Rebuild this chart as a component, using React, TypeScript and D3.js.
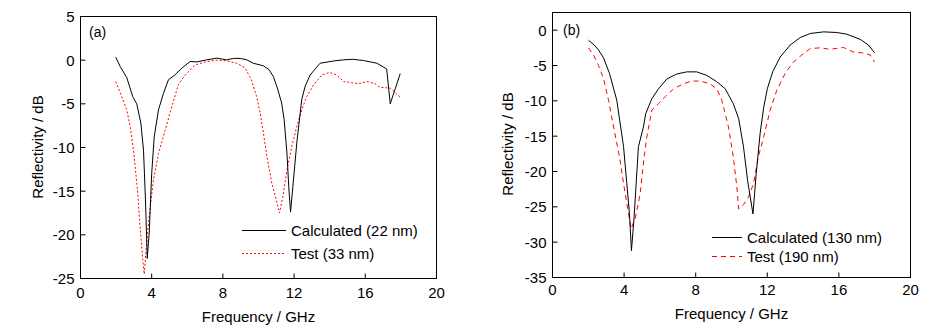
import React from "react";
import * as d3 from "d3";

// ---------- Data ----------
const calcA_x = [1.98, 2.23, 2.6, 2.94, 3.16, 3.39, 3.54, 3.65, 3.75, 3.86, 4.0, 4.14, 4.38, 4.66, 4.94, 5.3, 5.7, 6.16, 6.54, 7.1, 7.66, 8.2, 8.6, 8.97, 9.34, 9.7, 10.28, 10.6, 10.84, 11.06, 11.3, 11.44, 11.6, 11.7, 11.8, 11.93, 12.15, 12.43, 12.62, 12.9, 13.46, 14.2, 14.78, 15.3, 15.9, 16.65, 17.2, 17.4, 17.96];
const calcA_y = [0.35, -0.73, -2.0, -4.2, -5.0, -7.2, -10.3, -16, -22.7, -19.8, -13, -8.8, -5.7, -3.8, -2.25, -1.7, -0.9, -0.15, -0.2, 0.04, 0.23, 0.04, 0.2, 0.2, 0.04, -0.35, -0.65, -1.1, -1.9, -3.2, -4.9, -6.8, -10.7, -14.5, -17.4, -14.5, -9.5, -4.5, -3.0, -1.7, -0.35, -0.1, 0.04, 0.1, -0.04, -0.35, -1.0, -5.0, -1.55];

const testA_x = [1.98, 2.32, 2.6, 2.79, 2.98, 3.2, 3.35, 3.5, 3.58, 3.73, 3.88, 4.1, 4.38, 4.76, 5.13, 5.5, 5.88, 6.44, 7.1, 7.66, 8.2, 8.78, 9.25, 9.6, 9.9, 10.1, 10.28, 10.47, 10.75, 11.0, 11.18, 11.37, 11.6, 11.87, 12.15, 12.43, 12.7, 13.1, 13.56, 14.0, 14.4, 14.78, 15.3, 15.6, 16.1, 16.55, 16.8, 17.4, 17.96];
const testA_y = [-2.45, -4.2, -5.7, -7.6, -10.3, -14.9, -19.1, -22.9, -24.5, -20.6, -17.5, -13.7, -10.7, -8.0, -5.3, -2.8, -1.7, -0.55, -0.15, 0, -0.07, -0.35, -0.9, -2.25, -4.2, -6.1, -8.4, -11, -14.1, -16, -17.5, -15.6, -12.6, -9.9, -7.6, -5.7, -4.2, -2.8, -1.7, -1.4, -1.7, -2.45, -2.6, -2.7, -2.45, -2.7, -3.1, -3.2, -4.25];

const calcB_x = [2.01, 2.33, 2.57, 2.85, 3.18, 3.59, 3.97, 4.15, 4.3, 4.41, 4.56, 4.8, 5.08, 5.21, 5.55, 5.92, 6.39, 6.95, 7.5, 8.06, 8.62, 9.18, 9.65, 10.1, 10.4, 10.67, 10.9, 11.2, 11.38, 11.6, 11.8, 12.0, 12.3, 12.72, 13.28, 13.84, 14.4, 15.14, 15.88, 16.44, 17.19, 17.65, 17.99];
const calcB_y = [-1.42, -2.1, -2.8, -3.9, -6.1, -9.9, -16.5, -21.7, -26, -31.2, -26.4, -16.5, -13.7, -11.8, -9.7, -8.3, -6.9, -6.2, -5.9, -5.9, -6.4, -7.3, -8.3, -10.4, -12.5, -16.5, -21.3, -26, -20.3, -14.6, -10.9, -8.3, -5.9, -3.8, -2.1, -1.04, -0.47, -0.24, -0.33, -0.57, -1.3, -2.1, -3.2];

const testB_x = [2.01, 2.29, 2.57, 2.85, 3.13, 3.45, 3.74, 4.0, 4.25, 4.39, 4.62, 4.9, 5.12, 5.27, 5.55, 5.92, 6.3, 6.76, 7.3, 7.78, 8.25, 8.8, 9.18, 9.46, 9.83, 10.1, 10.3, 10.4, 10.67, 10.95, 11.23, 11.5, 11.8, 12.16, 12.53, 13.0, 13.46, 13.93, 14.4, 14.95, 15.5, 16.26, 16.8, 17.28, 17.75, 17.99];
const testB_y = [-2.5, -3.5, -5.0, -6.85, -9.9, -14.2, -17.9, -22.2, -26, -28.1, -26.7, -23.1, -17.9, -15.1, -11.3, -10.4, -9.4, -8.3, -7.6, -7.2, -7.2, -7.6, -8.3, -9.9, -13.7, -17.9, -22.2, -25.3, -24.7, -23.6, -21.7, -17.9, -15.1, -11.3, -8.5, -6.1, -4.5, -3.5, -2.6, -2.5, -2.7, -2.45, -3.1, -3.2, -3.5, -4.5];

const xTicks = [0, 4, 8, 12, 16, 20];
const yTicksA = [5, 0, -5, -10, -15, -20, -25];
const yTicksB = [0, -5, -10, -15, -20, -25, -30, -35];

const legendA = ["Calculated (22 nm)", "Test (33 nm)"];
const legendB = ["Calculated (130 nm)", "Test (190 nm)"];

const FONT = "'Liberation Sans', Arial, Helvetica, sans-serif";

type PanelProps = {
  left: number; right: number; top: number; bottom: number;
  yDomain: [number, number]; yTicks: number[];
  calcX: number[]; calcY: number[]; testX: number[]; testY: number[];
  label: string; labelPos: [number, number];
  legend: string[]; legendX: [number, number]; legendY: [number, number];
  dash: string; yTitleX: number; yTitleY: number; xTitleY: number; xTickY: number;
};

function Panel(p: PanelProps) {
  const x = d3.scaleLinear().domain([0, 20]).range([p.left, p.right]);
  const y = d3.scaleLinear().domain(p.yDomain).range([p.bottom, p.top]);
  const line = d3.line<[number, number]>().x(d => x(d[0])).y(d => y(d[1]));
  const calc = line(p.calcX.map((v, i) => [v, p.calcY[i]] as [number, number])) || "";
  const test = line(p.testX.map((v, i) => [v, p.testY[i]] as [number, number])) || "";
  const T = 5;
  return (
    <g fontFamily={FONT} fontSize={15} fill="#000">
      <path d={test} fill="none" stroke="#ff0000" strokeWidth={1} strokeDasharray={p.dash} />
      <path d={calc} fill="none" stroke="#000" strokeWidth={1} />
      <rect x={p.left} y={p.top} width={p.right - p.left} height={p.bottom - p.top} fill="none" stroke="#000" strokeWidth={1} />
      {xTicks.map(t => (
        <g key={"x" + t}>
          <line x1={x(t)} x2={x(t)} y1={p.bottom} y2={p.bottom - T} stroke="#000" />
          <text x={x(t)} y={p.xTickY} textAnchor="middle">{t}</text>
        </g>
      ))}
      {p.yTicks.map(t => (
        <g key={"y" + t}>
          <line x1={p.left} x2={p.left + T} y1={y(t)} y2={y(t)} stroke="#000" />
          <text x={p.left - 6} y={y(t)} textAnchor="end" dominantBaseline="central">{t}</text>
        </g>
      ))}
      <text x={(p.left + p.right) / 2} y={p.xTitleY} textAnchor="middle">Frequency / GHz</text>
      <text transform={`translate(${p.yTitleX},${p.yTitleY}) rotate(-90)`} textAnchor="middle" dominantBaseline="central">Reflectivity / dB</text>
      <text x={p.labelPos[0]} y={p.labelPos[1]} fontSize={14}>{p.label}</text>
      <line x1={p.legendX[0]} x2={p.legendX[1]} y1={p.legendY[0]} y2={p.legendY[0]} stroke="#000" />
      <line x1={p.legendX[0]} x2={p.legendX[1]} y1={p.legendY[1]} y2={p.legendY[1]} stroke="#ff0000" strokeDasharray={p.dash} />
      <text x={p.legendX[1] + 5} y={p.legendY[0]} dominantBaseline="central">{p.legend[0]}</text>
      <text x={p.legendX[1] + 5} y={p.legendY[1]} dominantBaseline="central">{p.legend[1]}</text>
    </g>
  );
}

export default function App() {
  return (
    <svg width={935} height={334} style={{ position: "absolute", left: 0, top: 0, background: "#fff" }}>
      <rect width={935} height={334} fill="#fff" />
      <Panel left={80.5} right={436.5} top={16.5} bottom={278.5} yDomain={[-25, 5]} yTicks={yTicksA}
        calcX={calcA_x} calcY={calcA_y} testX={testA_x} testY={testA_y}
        label="(a)" labelPos={[89, 37]} legend={legendA} legendX={[242, 286]} legendY={[230.5, 253.5]}
        dash="2,2" yTitleX={37} yTitleY={147} xTitleY={322} xTickY={298} />
      <Panel left={552.5} right={910.5} top={12.5} bottom={277.5} yDomain={[-35, 2.5]} yTicks={yTicksB}
        calcX={calcB_x} calcY={calcB_y} testX={testB_x} testY={testB_y}
        label="(b)" labelPos={[563, 35]} legend={legendB} legendX={[712, 742]} legendY={[237.5, 256.5]}
        dash="5,4" yTitleX={507} yTitleY={144} xTitleY={319} xTickY={295} />
    </svg>
  );
}
